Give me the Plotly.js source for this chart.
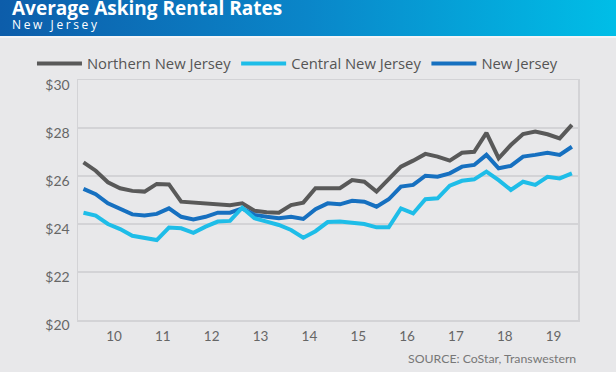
<!DOCTYPE html>
<html><head><meta charset="utf-8">
<script src="https://cdn.plot.ly/plotly-3.0.1.min.js"></script>
<style>
html,body{margin:0;padding:0;background:#e8e8ea;}
#wrap{position:relative;width:616px;height:372px;background:#e8e8ea;overflow:hidden;}
#band{position:absolute;left:0;top:0;width:616px;height:36px;background:linear-gradient(to right,#0d5daa 0%,#0a86c9 50%,#00bee7 100%);border-bottom:2px solid #f3f4f6;}
#chart{position:absolute;left:0;top:0;width:616px;height:372px;}
g.annotation[data-index="1"] text{letter-spacing:2.6px;}
</style></head><body>
<div id="wrap"><div id="band"></div><div id="chart"></div></div>
<script>
const quarters = ["2009 Q4",
  "2010 Q1","2010 Q2","2010 Q3","2010 Q4",
  "2011 Q1","2011 Q2","2011 Q3","2011 Q4",
  "2012 Q1","2012 Q2","2012 Q3","2012 Q4",
  "2013 Q1","2013 Q2","2013 Q3","2013 Q4",
  "2014 Q1","2014 Q2","2014 Q3","2014 Q4",
  "2015 Q1","2015 Q2","2015 Q3","2015 Q4",
  "2016 Q1","2016 Q2","2016 Q3","2016 Q4",
  "2017 Q1","2017 Q2","2017 Q3","2017 Q4",
  "2018 Q1","2018 Q2","2018 Q3","2018 Q4",
  "2019 Q1","2019 Q2","2019 Q3","2019 Q4"];
const northern = [26.57,26.22,25.74,25.49,25.38,25.35,25.67,25.65,24.93,24.89,
  24.86,24.82,24.78,24.86,24.55,24.49,24.47,24.79,24.89,25.49,
  25.49,25.49,25.83,25.76,25.35,25.90,26.39,26.64,26.92,26.81,
  26.64,26.97,27.01,27.80,26.74,27.29,27.75,27.85,27.74,27.57,
  28.13];
const central = [24.47,24.35,24.00,23.79,23.51,23.43,23.33,23.85,23.82,23.63,
  23.89,24.10,24.13,24.68,24.24,24.10,23.96,23.75,23.43,23.70,
  24.08,24.10,24.03,24.00,23.86,23.86,24.65,24.44,25.03,25.07,
  25.60,25.80,25.86,26.18,25.83,25.42,25.76,25.63,25.97,25.90,
  26.11];
const newJersey = [25.46,25.24,24.86,24.61,24.40,24.35,24.42,24.65,24.30,24.19,
  24.30,24.47,24.47,24.65,24.38,24.30,24.24,24.30,24.21,24.62,
  24.86,24.82,24.97,24.93,24.72,25.03,25.56,25.63,26.01,25.97,
  26.11,26.39,26.46,26.88,26.32,26.42,26.81,26.88,26.97,26.88,
  27.22];
const yearTicks = ["10","11","12","13","14","15","16","17","18","19"];
const seriesNames = ["Northern New Jersey","Central New Jersey","New Jersey"];

function qx(label){ const p = label.split(" Q"); return +p[0] + (+p[1]-1)/4 + 0.125; }
const xs = quarters.map(qx);
const tickVals = yearTicks.map(t => 2000 + (+t) + 0.5);

const FONT = "Lato, 'Noto Sans', sans-serif";
const WIDE = "'Open Sans', 'Noto Sans', sans-serif";
const traces = [
  {x: xs, y: northern, name: seriesNames[0], type: "scatter", mode: "lines",
   line: {color: "#595959", width: 4}, legendrank: 1},
  {x: xs, y: newJersey, name: seriesNames[2], type: "scatter", mode: "lines",
   line: {color: "#1670c0", width: 4}, legendrank: 3},
  {x: xs, y: central, name: seriesNames[1], type: "scatter", mode: "lines",
   line: {color: "#1ebde8", width: 4}, legendrank: 2}
];

// paper coordinate helpers (plot area 78..577.7 px, 80..320 px)
const L = 78, R = 38.3, T = 80, B = 52, W = 616, H = 372;
const pw = W - L - R, ph = H - T - B;
const px = v => (v - L) / pw;
const py = v => (H - B - v) / ph;

const layout = {
  width: W, height: H,
  margin: {l: L, r: R, t: T, b: B, pad: 0},
  paper_bgcolor: "rgba(0,0,0,0)",
  plot_bgcolor: "#e8e8ea",
  font: {family: FONT, color: "#666"},
  showlegend: true,
  legend: {orientation: "h", x: px(32), xanchor: "left", y: py(64), yanchor: "middle",
    font: {family: WIDE, size: 14.8, color: "#555"}, bgcolor: "rgba(0,0,0,0)",
    traceorder: "normal", itemwidth: 45},
  xaxis: {range: [2009.7625, 2020.0], tickvals: tickVals, ticktext: yearTicks,
    showgrid: false, zeroline: false, showline: true, mirror: true,
    linecolor: "#d3d3d6", linewidth: 1.5, ticks: "",
    tickfont: {family: FONT, size: 13.5, color: "#666"}, ticklabelstandoff: 3, fixedrange: true},
  yaxis: {range: [20, 30], dtick: 2, tick0: 20, tickprefix: "$",
    showgrid: true, gridcolor: "#d3d3d6", gridwidth: 1.5, zeroline: false,
    showline: true, mirror: true, linecolor: "#d3d3d6", linewidth: 1.5, ticks: "",
    tickfont: {family: FONT, size: 14, color: "#666"}, ticklabelstandoff: 4, ticklabelshift: 5,
    fixedrange: true},
  annotations: [
    {text: "<b>Average Asking Rental Rates</b>", xref: "paper", yref: "paper",
     x: px(10), y: py(8), xanchor: "left", yanchor: "middle", align: "left", showarrow: false,
     font: {family: WIDE, size: 19, color: "#ffffff"}},
    {text: "New Jersey", xref: "paper", yref: "paper",
     x: px(10), y: py(24.5), xanchor: "left", yanchor: "middle", align: "left", showarrow: false,
     font: {family: WIDE, size: 12, color: "#ffffff"}},
    {text: "SOURCE: CoStar, Transwestern", xref: "paper", yref: "paper",
     x: 1, y: py(358), xanchor: "right", yanchor: "middle", showarrow: false,
     font: {family: FONT, size: 12.3, color: "#777"}}
  ]
};

Plotly.newPlot("chart", traces, layout, {displayModeBar: false, staticPlot: true});
</script>
</body></html>
